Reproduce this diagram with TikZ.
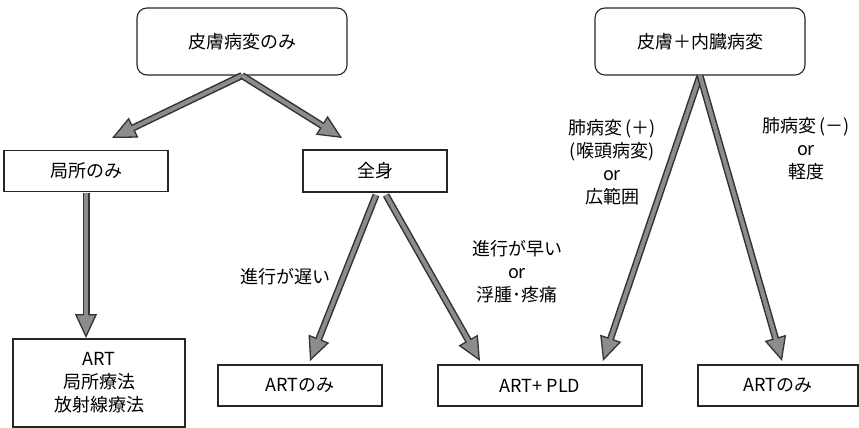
\documentclass[tikz,border=0pt]{standalone}
\usepackage{fontspec}
\setmainfont{Noto Sans CJK JP}
\usetikzlibrary{arrows.meta}
\tikzset{
  box/.style={draw=black!85, line width=1.1pt, fill=white, inner sep=0pt, align=center,
    font=\fontsize{18}{23}\selectfont},
  rbox/.style={box, rounded corners=10pt},
  lbl/.style={align=center, inner sep=0pt, font=\fontsize{18}{23}\selectfont},
}
\colorlet{arrfill}{black!45}
\colorlet{arredge}{black!80}
\newcommand\garrow[2]{%
  \draw[line width=7pt, arredge, -{Triangle[length=24pt,width=22pt,fill=arrfill,line width=1.3pt]}] (#1) -- (#2);
  \draw[line width=4pt, arrfill, shorten >=20pt] (#1) -- (#2);}
\begin{document}
\begin{tikzpicture}[x=1pt,y=-1pt]
\useasboundingbox (0,0) rectangle (859,428);
\node[rbox, minimum width=210pt, minimum height=67pt] (top1) at (242,41.5) {皮膚病変のみ};
\node[rbox, minimum width=210pt, minimum height=67pt] (top2) at (700,41.5) {皮膚＋内臓病変};
\node[box, minimum width=164pt, minimum height=41pt] (loc) at (86,171) {局所のみ};
\node[box, minimum width=144pt, minimum height=42pt] (zen) at (375,171) {全身};
\node[box, minimum width=172pt, minimum height=88pt] (art1) at (99,383) {ART\\局所療法\\放射線療法};
\node[box, minimum width=164pt, minimum height=41pt] (art2) at (300,385.5) {ARTのみ};
\node[box, minimum width=204pt, minimum height=41pt] (pld) at (540,385.5) {ART+ PLD};
\node[box, minimum width=160pt, minimum height=41pt] (art3) at (778,385.5) {ARTのみ};

\coordinate (a1) at (top1.south);
\coordinate (t1) at (112,138);
\coordinate (t2) at (342,138);
\coordinate (s3) at (86,193);
\coordinate (t3) at (86,338);
\coordinate (s4) at (376,195);
\coordinate (t4) at (310,361);
\coordinate (s5) at (386,195);
\coordinate (t5) at (480,361);
\coordinate (a2) at (top2.south);
\coordinate (t6) at (603,361);
\coordinate (t7) at (782,361);

\garrow{a1}{t1}
\garrow{a1}{t2}
\garrow{s3}{t3}
\garrow{s4}{t4}
\garrow{s5}{t5}
\garrow{a2}{t6}
\garrow{a2}{t7}

\node[lbl] (l1) at (285,277) {進行が遅い};
\node[lbl] (l2) at (517,272) {進行が早い\\or\\浮腫･疼痛};
\node[lbl] (l3) at (612,162) {肺病変\,(＋)\\(喉頭病変)\\or\\広範囲};
\node[lbl] (l4) at (806,149) {肺病変\,(－)\\or\\軽度};
\end{tikzpicture}
\end{document}
